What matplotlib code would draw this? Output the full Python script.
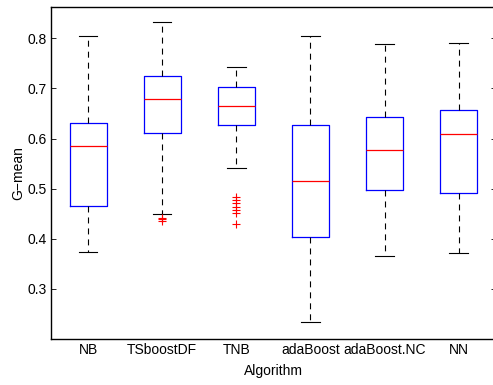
import matplotlib
matplotlib.use("Agg")
import matplotlib.pyplot as plt

plt.rcParams["font.family"] = ["Liberation Sans", "DejaVu Sans"]
plt.rcParams["lines.scale_dashes"] = False

algorithms = ["NB", "TSboostDF", "TNB", "adaBoost", "adaBoost.NC", "NN"]
whisker_low = [0.373, 0.449, 0.542, 0.233, 0.365, 0.372]
q1 = [0.465, 0.612, 0.626, 0.404, 0.497, 0.492]
medians = [0.585, 0.679, 0.664, 0.515, 0.578, 0.609]
q3 = [0.630, 0.724, 0.702, 0.627, 0.642, 0.656]
whisker_high = [0.804, 0.832, 0.742, 0.804, 0.789, 0.790]
outliers = [
    [],
    [0.442, 0.439, 0.436],
    [0.484, 0.477, 0.471, 0.464, 0.457, 0.451, 0.429],
    [],
    [],
    [],
]

stats = []
for i, name in enumerate(algorithms):
    stats.append({
        "label": name,
        "whislo": whisker_low[i],
        "q1": q1[i],
        "med": medians[i],
        "q3": q3[i],
        "whishi": whisker_high[i],
        "fliers": outliers[i],
    })

fig = plt.figure(figsize=(4.93, 3.85), dpi=100)
ax = fig.add_axes([51 / 493, 46 / 385, 444.7 / 493, 332.3 / 385])

ax.bxp(
    stats,
    widths=0.5,
    capwidths=0.25,
    boxprops=dict(color="#0000ff", linewidth=0.9),
    medianprops=dict(color="#ff0000", linewidth=0.9),
    whiskerprops=dict(color="black", linewidth=0.8, linestyle=(0, (4.3, 3.6))),
    capprops=dict(color="black", linewidth=0.8),
    flierprops=dict(marker="+", markeredgecolor="#ff0000", markersize=6,
                    markeredgewidth=0.8, linestyle="none"),
)

ax.set_xlim(0.5, 6.5)
ax.set_ylim(0.2, 0.863)
ax.set_yticks([0.3, 0.4, 0.5, 0.6, 0.7, 0.8])
ax.set_yticklabels(["0.3", "0.4", "0.5", "0.6", "0.7", "0.8"])
ax.tick_params(axis="y", direction="in", length=3.5, width=0.6, right=True,
               labelsize=10, pad=3)
ax.tick_params(axis="x", length=0, labelsize=10, pad=3)

for side in ax.spines.values():
    side.set_linewidth(1.0)

ax.set_xlabel("Algorithm", fontsize=10, labelpad=5)
ax.set_ylabel("G\u2212mean", fontsize=10, labelpad=2)

fig.savefig("out.png", dpi=100)
